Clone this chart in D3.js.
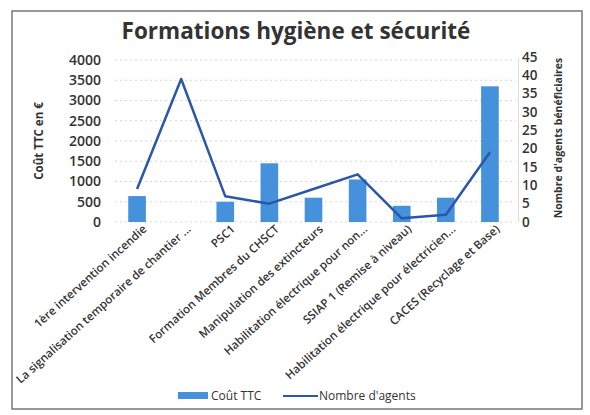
<!DOCTYPE html>
<html>
<head>
<meta charset="utf-8">
<script src="https://cdn.jsdelivr.net/npm/d3@7"></script>
<style>
  body { margin: 0; background: #fff; }
  text { font-family: "Open Sans", sans-serif; fill: #333; }
</style>
</head>
<body>
<script>
var width = 590,
    height = 415;

// data
var categories = [
  "1ère intervention incendie",
  "La signalisation temporaire de chantier ...",
  "PSC1",
  "Formation Membres du CHSCT",
  "Manipulation des extincteurs",
  "Habilitation électrique pour non...",
  "SSIAP 1 (Remise à niveau)",
  "Habilitation électrique pour électricien...",
  "CACES (Recyclage et Base)"
];
var cout = [640, 0, 500, 1450, 600, 1050, 400, 600, 3350];
var agents = [9, 39, 7, 5, 9, 13, 1, 2, 19];
var leftTicks = [0, 500, 1000, 1500, 2000, 2500, 3000, 3500, 4000];
var rightTicks = [0, 5, 10, 15, 20, 25, 30, 35, 40, 45];

var margin = {top: 60, left: 115, right: 78, bottom: 193};

var svg = d3.select("body").append("svg")
    .attr("width", width)
    .attr("height", height);

// frame of the scanned chart
svg.append("rect")
    .attr("x", 12).attr("y", 11)
    .attr("width", 570).attr("height", 398)
    .attr("fill", "none")
    .attr("stroke", "#777")
    .attr("stroke-width", 1.5);

var x = d3.scaleBand()
    .domain(categories)
    .range([margin.left, width - margin.right])
    .paddingInner(0.6)
    .paddingOuter(0.3);

var y = d3.scaleLinear()
    .domain([0, 4000])
    .range([height - margin.bottom, margin.top]);

var y2 = d3.scaleLinear()
    .domain([0, 45])
    .range([height - margin.bottom, margin.top - 3]);

// gridlines
svg.append("g")
  .selectAll("line")
  .data(leftTicks)
  .enter().append("line")
    .attr("x1", margin.left).attr("x2", width - margin.right + 4)
    .attr("y1", function(d) { return y(d); })
    .attr("y2", function(d) { return y(d); })
    .attr("stroke", "#ccc")
    .attr("stroke-dasharray", "2,3")
    .attr("stroke-width", 0.8);

// bars
svg.append("g")
  .selectAll("rect")
  .data(cout)
  .enter().append("rect")
    .attr("x", function(d, i) { return x(categories[i]); })
    .attr("y", function(d) { return y(d); })
    .attr("width", x.bandwidth())
    .attr("height", function(d) { return y(0) - y(d); })
    .attr("fill", "#4591dc");

// line
var line = d3.line()
    .x(function(d, i) { return x(categories[i]) + x.bandwidth() / 2; })
    .y(function(d) { return y2(d); });

svg.append("path")
    .datum(agents)
    .attr("d", line)
    .attr("fill", "none")
    .attr("stroke", "#2c56a8")
    .attr("stroke-width", 2.5)
    .attr("stroke-linejoin", "round");

// axes
var leftAxis = svg.append("g")
    .attr("transform", "translate(" + (margin.left - 8) + ",0)")
    .call(d3.axisLeft(y).tickValues(leftTicks).tickFormat(d3.format("d")).tickSize(0).tickPadding(6));
leftAxis.select(".domain").remove();
leftAxis.selectAll("text").style("font-size", "14px").style("font-weight", "600").attr("fill", "#333");

var rightAxis = svg.append("g")
    .attr("transform", "translate(" + (width - margin.right + 6) + ",0)")
    .call(d3.axisRight(y2).tickValues(rightTicks).tickSize(0).tickPadding(4));
rightAxis.select(".domain").attr("stroke", "#ddd");
rightAxis.selectAll("text").style("font-size", "13.5px").style("font-weight", "600").attr("fill", "#333");

var xAxis = svg.append("g")
    .attr("transform", "translate(0," + (height - margin.bottom) + ")")
    .call(d3.axisBottom(x).tickSize(0).tickPadding(9));
xAxis.select(".domain").remove();
xAxis.selectAll("text")
    .style("font-size", "11.5px")
    .style("font-weight", "600")
    .attr("fill", "#333")
    .attr("text-anchor", "end")
    .attr("dx", "0.2em")
    .attr("dy", "0.35em")
    .attr("transform", "rotate(-42)");

// title
svg.append("text")
    .attr("x", 296).attr("y", 39)
    .attr("text-anchor", "middle")
    .style("font-size", "22.5px")
    .style("font-weight", "bold")
    .text("Formations hygiène et sécurité");

// axis titles
svg.append("text")
    .attr("transform", "translate(43,141) rotate(-90)")
    .attr("text-anchor", "middle")
    .style("font-size", "11.5px")
    .style("font-weight", "bold")
    .text("Coût TTC en €");

svg.append("text")
    .attr("transform", "translate(562,138) rotate(-90)")
    .attr("text-anchor", "middle")
    .style("font-size", "10.5px")
    .style("font-weight", "bold")
    .text("Nombre d'agents bénéficiaires");

// legend
var legend = svg.append("g").attr("transform", "translate(0,396)");
legend.append("rect")
    .attr("x", 178).attr("y", -4)
    .attr("width", 30).attr("height", 7)
    .attr("fill", "#4591dc");
legend.append("text")
    .attr("x", 211).attr("y", 4)
    .style("font-size", "12px")
    .text("Coût TTC");
legend.append("line")
    .attr("x1", 283).attr("x2", 318)
    .attr("y1", 0).attr("y2", 0)
    .attr("stroke", "#2c56a8")
    .attr("stroke-width", 2);
legend.append("text")
    .attr("x", 319).attr("y", 4)
    .style("font-size", "12px")
    .text("Nombre d'agents");
</script>
</body>
</html>
